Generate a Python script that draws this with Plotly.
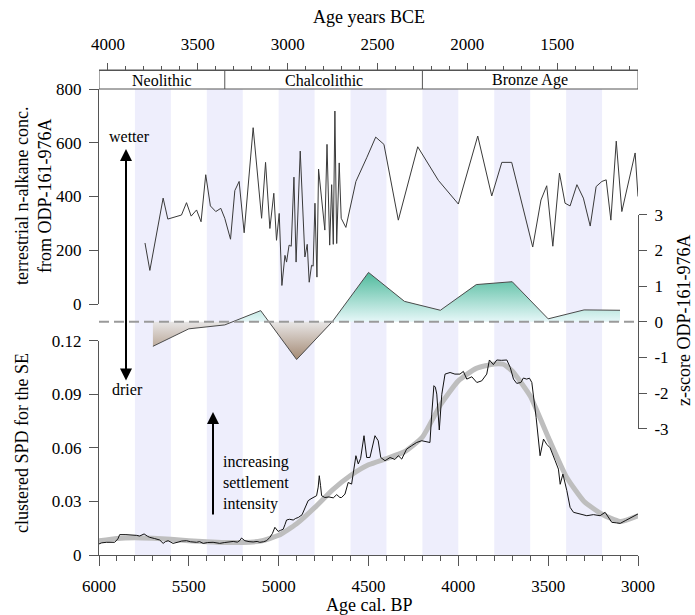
import plotly.graph_objects as go

# ---------------- data ----------------
alk_age = [5744, 5717, 5643, 5617, 5541, 5513, 5487, 5457, 5432, 5406, 5380, 5350, 5322, 5300,
           5268, 5244, 5220, 5192, 5142, 5095, 5073, 5049, 5027, 5012, 4997, 4982, 4965, 4956,
           4942, 4930, 4915, 4903, 4880, 4854, 4841, 4830, 4817, 4808, 4798, 4787, 4778, 4743,
           4731, 4716, 4705, 4696, 4687, 4677, 4663, 4652, 4626, 4570, 4510, 4460, 4414, 4334,
           4226, 4111, 4000, 3892, 3814, 3758, 3703, 3586, 3540, 3508, 3474, 3437, 3406, 3378,
           3340, 3304, 3266, 3233, 3201, 3177, 3151, 3121, 3090, 3016, 3000]
alk_val = [227, 125, 394, 316, 331, 377, 327, 350, 306, 481, 365, 344, 356, 319,
           241, 422, 456, 265, 656, 319, 527, 281, 412, 237, 337, 69, 181, 156,
           219, 215, 472, 156, 569, 175, 222, 81, 144, 141, 375, 100, 502, 275,
           594, 219, 444, 222, 718, 225, 525, 319, 285, 456, 544, 621, 594, 312,
           585, 460, 372, 625, 402, 527, 527, 212, 387, 440, 215, 487, 375, 365,
           444, 394, 290, 437, 456, 462, 312, 606, 344, 562, 400]

z_age = [5700, 5500, 5300, 5100, 4900, 4700, 4500, 4300, 4100, 3900, 3700, 3500, 3300, 3100]
z_val = [-0.69, -0.20, -0.09, 0.31, -1.06, 0.01, 1.38, 0.57, 0.32, 1.04, 1.12, 0.08, 0.33, 0.32]

spd_age = [6000, 5985, 5959, 5913, 5895, 5885, 5850, 5811, 5790, 5774, 5749, 5730, 5718, 5690,
           5662, 5643, 5630, 5615, 5588, 5560, 5540, 5513, 5490, 5457, 5440, 5420, 5395, 5365,
           5345, 5328, 5300, 5275, 5253, 5230, 5215, 5207, 5188, 5165, 5142, 5120, 5105, 5085,
           5067, 5049, 5035, 5021, 5010, 5003, 4990, 4975, 4965, 4956, 4940, 4919, 4905, 4891,
           4870, 4855, 4836, 4820, 4808, 4789, 4780, 4774, 4767, 4761, 4743, 4720, 4696, 4677,
           4659, 4650, 4631, 4622, 4613, 4594, 4570, 4557, 4544, 4525, 4510, 4492, 4475, 4464,
           4446, 4432, 4408, 4380, 4353, 4334, 4315, 4288, 4260, 4232, 4204, 4180, 4158, 4148,
           4136, 4128, 4120, 4106, 4092, 4074, 4046, 4019, 3991, 3972, 3953, 3925, 3897, 3870,
           3842, 3827, 3805, 3786, 3760, 3730, 3711, 3693, 3675, 3652, 3638, 3620, 3604, 3591,
           3567, 3545, 3526, 3508, 3489, 3461, 3443, 3433, 3418, 3396, 3378, 3359, 3320, 3285,
           3248, 3211, 3183, 3164, 3146, 3120, 3099, 3071, 3043, 3020, 3000]
spd_val = [0.0062, 0.0068, 0.0071, 0.0071, 0.0090, 0.0114, 0.0114, 0.0114, 0.0110, 0.0106, 0.0118, 0.0105, 0.0099, 0.0092,
           0.0084, 0.0065, 0.0075, 0.0080, 0.0065, 0.0072, 0.0078, 0.0080, 0.0074, 0.0071, 0.0075, 0.0065, 0.0070, 0.0071,
           0.0068, 0.0065, 0.0070, 0.0072, 0.0076, 0.0072, 0.0082, 0.0095, 0.0080, 0.0075, 0.0073, 0.0076, 0.0071, 0.0074,
           0.0080, 0.0099, 0.0120, 0.0155, 0.0140, 0.0132, 0.0138, 0.0144, 0.0170, 0.0196, 0.0200, 0.0196, 0.0205, 0.0210,
           0.0225, 0.0260, 0.0304, 0.0315, 0.0322, 0.0332, 0.0380, 0.0444, 0.0390, 0.0332, 0.0322, 0.0325, 0.0320, 0.0338,
           0.0322, 0.0322, 0.0341, 0.0379, 0.0406, 0.0397, 0.0556, 0.0510, 0.0540, 0.0668, 0.0546, 0.0546, 0.0620, 0.0668,
           0.0640, 0.0546, 0.0528, 0.0546, 0.0535, 0.0556, 0.0537, 0.0593, 0.0612, 0.0630, 0.0640, 0.0635, 0.0630, 0.0789,
           0.0948, 0.0940, 0.0901, 0.0700, 0.0900, 0.1013, 0.1022, 0.1013, 0.1013, 0.1028, 0.0985, 0.0998, 0.0966, 0.0975,
           0.1013, 0.1092, 0.1066, 0.1092, 0.1090, 0.1092, 0.1050, 0.0985, 0.0961, 0.0966, 0.0991, 0.0985, 0.0990, 0.0966,
           0.0770, 0.0556, 0.0649, 0.0620, 0.0600, 0.0528, 0.0481, 0.0396, 0.0453, 0.0360, 0.0267, 0.0239, 0.0230, 0.0220,
           0.0226, 0.0220, 0.0239, 0.0210, 0.0183, 0.0180, 0.0177, 0.0192, 0.0207, 0.0215, 0.0230]

smooth_age = [6000, 5900, 5800, 5700, 5600, 5500, 5400, 5300, 5200, 5100, 5000, 4900, 4800, 4700, 4600, 4500,
              4400, 4300, 4200, 4100, 4000, 3900, 3800, 3750, 3700, 3600, 3500, 3400, 3300, 3200, 3100, 3000]
smooth_val = [0.0080, 0.0093, 0.0097, 0.0094, 0.0088, 0.0080, 0.0074, 0.0070, 0.0070, 0.0078, 0.0110, 0.0175,
              0.0265, 0.0365, 0.0445, 0.0505, 0.0540, 0.0578, 0.0660, 0.0840, 0.0975, 0.1045, 0.1070, 0.1068,
              0.1030, 0.0890, 0.0660, 0.0440, 0.0300, 0.0228, 0.0188, 0.0220]

band_start = [5800, 5400, 5000, 4600, 4200, 3800, 3400]
band_end = [5600, 5200, 4800, 4400, 4000, 3600, 3200]

period_names = ["Neolithic", "Chalcolithic", "Bronze Age"]
period_start = [6000, 5300, 4200]
period_end = [5300, 4200, 3000]

x_ticks = [6000, 5500, 5000, 4500, 4000, 3500, 3000]
bce_ticks = [4000, 3500, 3000, 2500, 2000, 1500]
alk_ticks = [0, 200, 400, 600, 800]
spd_ticks = [0, 0.03, 0.06, 0.09, 0.12]
spd_ticktext = ["0", "0.03", "0.06", "0.09", "0.12"]
z_ticks = [3, 2, 1, 0, -1, -2, -3]
z_ticktext = ["3", "2", "1", "0", "-1", "-2", "-3"]
BP_TO_BCE = 1950

# ---------------- layout geometry ----------------
W, H = 695, 615
ML, MR, MT, MB = 99, 57, 70, 60
PW, PH = W - ML - MR, H - MT - MB


def px_x(p):
    return (p - ML) / PW


def px_y(p):
    return (H - MB - p) / PH


FONT = "Liberation Serif"
AX = "#555555"

# split z-score into positive / negative parts (with zero crossings)
pos_x, pos_y, neg_x, neg_y = [], [], [], []
for i in range(len(z_age)):
    if i > 0 and z_val[i - 1] * z_val[i] < 0:
        a0, a1, v0, v1 = z_age[i - 1], z_age[i], z_val[i - 1], z_val[i]
        xc = a0 + (a1 - a0) * (0 - v0) / (v1 - v0)
        pos_x.append(xc); pos_y.append(0)
        neg_x.append(xc); neg_y.append(0)
    pos_x.append(z_age[i]); pos_y.append(max(z_val[i], 0))
    neg_x.append(z_age[i]); neg_y.append(min(z_val[i], 0))

fig = go.Figure()

# helper trace for top axis
fig.add_trace(go.Scatter(x=[a - BP_TO_BCE for a in alk_age], y=alk_val, xaxis="x2", yaxis="y",
                         mode="lines", line=dict(width=0), opacity=0, hoverinfo="skip", showlegend=False))

# n-alkane
fig.add_trace(go.Scatter(x=alk_age, y=alk_val, xaxis="x", yaxis="y", mode="lines",
                         line=dict(color="#3a3a3a", width=1), hoverinfo="skip", showlegend=False))

# z-score fills
fig.add_trace(go.Scatter(x=pos_x, y=pos_y, xaxis="x", yaxis="y3", mode="lines", line=dict(width=0),
                         fill="tozeroy",
                         fillgradient=dict(type="vertical", start=0, stop=max(z_val),
                                           colorscale=[[0, "#E6F7F8"], [1, "#4FBA9C"]]),
                         hoverinfo="skip", showlegend=False))
fig.add_trace(go.Scatter(x=neg_x, y=neg_y, xaxis="x", yaxis="y3", mode="lines", line=dict(width=0),
                         fill="tozeroy",
                         fillgradient=dict(type="vertical", start=min(z_val), stop=0,
                                           colorscale=[[0, "#A48A74"], [1, "#E8E6E6"]]),
                         hoverinfo="skip", showlegend=False))
fig.add_trace(go.Scatter(x=z_age, y=z_val, xaxis="x", yaxis="y3", mode="lines",
                         line=dict(color="#4a4a4a", width=1), hoverinfo="skip", showlegend=False))

# SPD
fig.add_trace(go.Scatter(x=smooth_age, y=smooth_val, xaxis="x", yaxis="y2", mode="lines",
                         line=dict(color="#BEBEBE", width=5, shape="spline", smoothing=0.5),
                         hoverinfo="skip", showlegend=False))
fig.add_trace(go.Scatter(x=spd_age, y=spd_val, xaxis="x", yaxis="y2", mode="lines",
                         line=dict(color="#111111", width=1), hoverinfo="skip", showlegend=False))

shapes = []
box_bottom = px_y(89)
for s, e in zip(band_start, band_end):
    shapes.append(dict(type="rect", xref="x", yref="paper", x0=s, x1=e, y0=0, y1=box_bottom,
                       fillcolor="#EEEEFC", line=dict(width=0), layer="below"))
# period box
shapes.append(dict(type="rect", xref="x", yref="paper", x0=period_start[0], x1=period_end[-1],
                   y0=box_bottom, y1=1, line=dict(color=AX, width=1), fillcolor="rgba(0,0,0,0)"))
for s in period_start[1:]:
    shapes.append(dict(type="line", xref="x", yref="paper", x0=s, x1=s, y0=box_bottom, y1=1,
                       line=dict(color=AX, width=1)))
# zero line of z-score
shapes.append(dict(type="line", xref="x domain", yref="y3", x0=0, x1=1, y0=0, y1=0,
                   line=dict(color="#9a9a9a", width=2, dash="10px,5px")))

C = dict(xanchor="center", yanchor="middle", showarrow=False)
ann = []
for n, s, e in zip(period_names, period_start, period_end):
    ann.append(dict(x=(s + e) / 2, xref="x", y=px_y(80), yref="paper", text=n,
                    font=dict(family=FONT, size=16, color="black"), **C))

tf = dict(family=FONT, size=18, color="black")
af = dict(family=FONT, size=16, color="black")
ann += [
    dict(x=0.5, xref="paper", y=px_y(17), yref="paper", text="Age years BCE", font=tf, **C),
    dict(x=0.5, xref="paper", y=px_y(605), yref="paper", text="Age cal. BP", font=tf, **C),
    dict(x=px_x(33), xref="paper", y=px_y(196), yref="paper", textangle=-90, font=tf,
         text="terrestrial n-alkane conc.<br>from ODP-161-976A", **C),
    dict(x=px_x(22), xref="paper", y=px_y(443), yref="paper", textangle=-90, font=tf,
         text="clustered SPD for the SE", **C),
    dict(x=px_x(684), xref="paper", y=px_y(321), yref="paper", textangle=-90, font=tf,
         text="z-score ODP-161-976A", **C),
    dict(x=px_x(129), xref="paper", y=px_y(137), yref="paper", text="wetter", font=af, **C),
    dict(x=px_x(127), xref="paper", y=px_y(389), yref="paper", text="drier", font=af, **C),
    dict(x=px_x(221), xref="paper", y=px_y(483), yref="paper", xanchor="left", yanchor="middle",
         align="left", text="increasing<br>settlement<br>intensity", showarrow=False, font=af),
    # double arrow wetter/drier
    dict(x=px_x(126), xref="paper", y=px_y(149), yref="paper", ax=0, ay=233, text="",
         showarrow=True, arrowhead=2, startarrowhead=2, arrowside="end+start", arrowwidth=2,
         arrowsize=1.2, startarrowsize=1.2, arrowcolor="black", standoff=0, startstandoff=0),
    # settlement arrow
    dict(x=px_x(213), xref="paper", y=px_y(412), yref="paper", ax=0, ay=104, text="",
         showarrow=True, arrowhead=2, arrowwidth=2, arrowsize=1.2, arrowcolor="black", standoff=0),
]

tick_font = dict(family=FONT, size=17, color="black")
fig.update_layout(
    width=W, height=H, margin=dict(l=ML, r=MR, t=MT, b=MB),
    paper_bgcolor="white", plot_bgcolor="rgba(0,0,0,0)",
    showlegend=False, hovermode=False,
    font=dict(family=FONT, color="black"),
    shapes=shapes, annotations=ann,
    xaxis=dict(range=[6000, 3000], domain=[0, 1], anchor="y2", showgrid=False, zeroline=False,
               showline=True, linecolor=AX, linewidth=1, ticks="outside", ticklen=10, tickcolor=AX,
               tickvals=x_ticks, tickfont=tick_font, ticklabelstandoff=6,
               minor=dict(ticks="outside", ticklen=5, tickcolor=AX, dtick=100, tick0=3000, showgrid=False)),
    xaxis2=dict(range=[6000 - BP_TO_BCE, 3000 - BP_TO_BCE], overlaying="x", side="top", anchor="free",
                position=1, showgrid=False, zeroline=False, showline=True, linecolor=AX,
                ticks="outside", ticklen=7, tickcolor=AX, tickvals=bce_ticks, tickfont=tick_font,
                ticklabelstandoff=6,
                minor=dict(ticks="outside", ticklen=4, tickcolor=AX, dtick=100, tick0=1000, showgrid=False)),
    yaxis=dict(domain=[px_y(304), px_y(89)], range=[0, 800], anchor="x", showgrid=False, zeroline=False,
               showline=True, linecolor=AX, ticks="outside", ticklen=9, tickcolor=AX,
               tickvals=alk_ticks, tickfont=tick_font, ticklabelstandoff=4),
    yaxis2=dict(domain=[0, px_y(340.7)], range=[0, 0.12], anchor="x", showgrid=False, zeroline=False,
                showline=True, linecolor=AX, ticks="outside", ticklen=9, tickcolor=AX,
                tickvals=spd_ticks, ticktext=spd_ticktext, tickfont=tick_font, ticklabelstandoff=4),
    yaxis3=dict(domain=[px_y(428.8), px_y(214.6)], range=[-3, 3], anchor="x", side="right",
                showgrid=False, zeroline=False, showline=True, linecolor=AX, ticks="outside",
                ticklen=8, tickcolor=AX, tickvals=z_ticks, ticktext=z_ticktext, tickfont=tick_font,
                ticklabelstandoff=4),
)

fig.write_html("out.html")
